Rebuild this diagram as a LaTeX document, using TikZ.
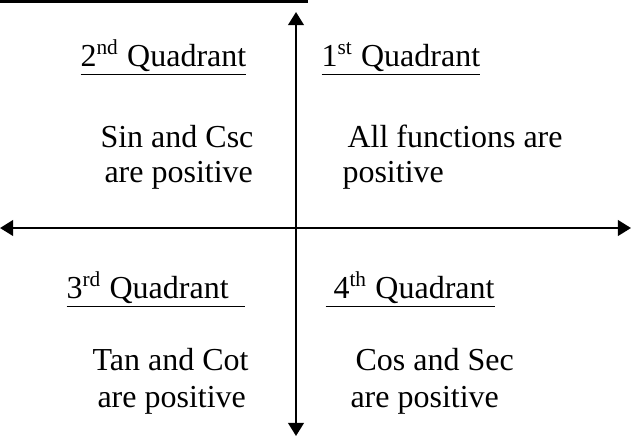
\documentclass[tikz,border=0pt]{standalone}
\usepackage{fontspec}
\setmainfont{Liberation Serif}
\usepackage{tikz}
\usetikzlibrary{arrows.meta}
\tikzset{
  axis/.style={{Triangle[length=4.9pt,width=5.8pt]}-{Triangle[length=4.9pt,width=5.8pt]},line width=0.95pt,color=black},
  topline/.style={line width=1.1pt,color=black},
  heading/.style={anchor=base west,inner sep=0pt,font=\fontsize{12}{14}\selectfont},
  body/.style={anchor=base west,inner sep=0pt,font=\fontsize{12}{14}\selectfont}
}

\begin{document}
\begin{tikzpicture}[x=0.375pt,y=0.375pt]
  \useasboundingbox (0,0) rectangle (631,-436);
  % axes
  \coordinate (ytop) at (296,-12);
  \coordinate (ybot) at (296,-436);
  \coordinate (xleft) at (0,-228);
  \coordinate (xright) at (631,-228);
  \coordinate (lineA) at (0,-1.5);
  \coordinate (lineB) at (308,-1.5);
  \draw[topline] (lineA) -- (lineB);
  \draw[axis] (ybot) -- (ytop);
  \draw[axis] (xleft) -- (xright);
  % quadrant 2
  \node[heading] (q2) at (80,-66) {\underline{2\textsuperscript{nd} Quadrant}};
  \node[body] (q2a) at (100,-147) {Sin and Csc};
  \node[body] (q2b) at (104,-182) {are positive};
  % quadrant 1
  \node[heading] (q1) at (321,-66) {\underline{1\textsuperscript{st} Quadrant}};
  \node[body] (q1a) at (347,-147) {All functions are};
  \node[body] (q1b) at (342,-182) {positive};
  % quadrant 3
  \node[heading] (q3) at (66,-298) {\underline{3\textsuperscript{rd} Quadrant\ \ }};
  \node[body] (q3a) at (92,-370) {Tan and Cot};
  \node[body] (q3b) at (97,-407) {are positive};
  % quadrant 4
  \node[heading] (q4) at (325,-298) {\underline{\ 4\textsuperscript{th} Quadrant}};
  \node[body] (q4a) at (355,-370) {Cos and Sec};
  \node[body] (q4b) at (350,-407) {are positive};
\end{tikzpicture}
\end{document}
